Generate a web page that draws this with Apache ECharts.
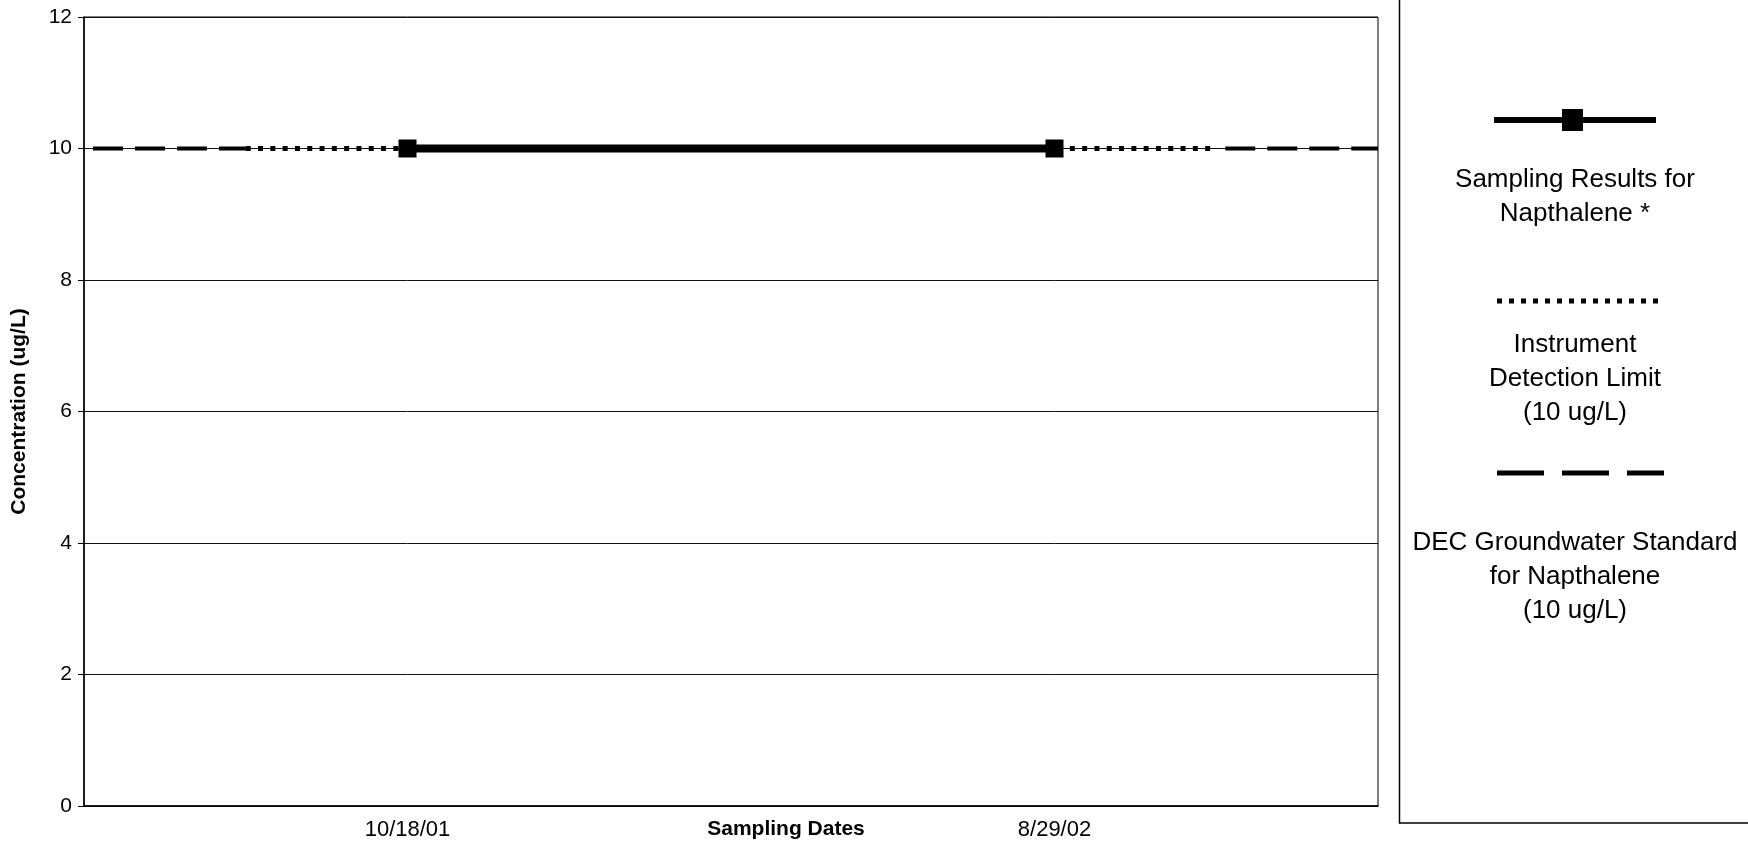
<!DOCTYPE html>
<html>
<head>
<meta charset="utf-8">
<title>Napthalene Sampling Results</title>
<script src="https://cdn.jsdelivr.net/npm/echarts@6/dist/echarts.min.js"></script>
<style>
  html, body { margin: 0; padding: 0; background: #fff; }
  #chart { width: 1748px; height: 843px; }
</style>
</head>
<body>
<div id="chart"></div>
<script>
// Sampling dates and where they sit along the horizontal scale (0..4)
const sampleDates = ['10/18/01', '8/29/02'];
const samplePositions = [1, 3];

// Napthalene concentration measured on each date (ug/L)
const napthaleneResults = [10, 10];

// Reference levels (ug/L) and the stretches of the scale they are drawn over
const detectionLimit = 10;
const detectionLimitSpans = [[0.5, 3.5]];
const groundwaterStandard = 10;
const groundwaterStandardSpans = [[0, 0.5], [3.5, 4]];

// Axis ranges
const xRange = [0, 4];
const yTicks = [0, 2, 4, 6, 8, 10, 12];

const seriesNames = {
  results: 'Sampling Results for\nNapthalene *',
  limit: 'Instrument\nDetection Limit\n(10 ug/L)',
  standard: 'DEC Groundwater Standard\nfor Napthalene\n(10 ug/L)'
};

// Turn a list of [start, end] spans into line data with breaks between spans
function spansToData(spans, level) {
  const out = [];
  spans.forEach((s, i) => {
    if (i > 0) out.push([s[0], '-']);
    out.push([s[0], level], [s[1], level]);
  });
  return out;
}

const resultsData = samplePositions.map((x, i) => [x, napthaleneResults[i]]);

const FONT = 'Liberation Sans, Arial, Helvetica, sans-serif';

const chart = echarts.init(document.getElementById('chart'), null, { renderer: 'canvas' });

// Legend panel on the right, drawn as graphic elements
const legendX = 1575;
const legendText = (text, y) => ({
  type: 'text', x: legendX, y: y, silent: true,
  style: { text: text, font: '26px ' + FONT, fill: '#000',
           align: 'center', verticalAlign: 'middle', textAlign: 'center',
           textVerticalAlign: 'middle', lineHeight: 34 }
});
const legendGraphics = [
  { type: 'rect', shape: { x: 1399.5, y: -3, width: 400, height: 826 },
    style: { fill: 'none', stroke: '#000', lineWidth: 1.5 }, silent: true },

  // solid line with square marker
  { type: 'line', shape: { x1: 1494, y1: 120, x2: 1656, y2: 120 },
    style: { stroke: '#000', lineWidth: 6 }, silent: true },
  { type: 'rect', shape: { x: 1562, y: 109, width: 21, height: 22 },
    style: { fill: '#000' }, silent: true },
  legendText(seriesNames.results, 197),

  // dotted line
  { type: 'line', shape: { x1: 1497, y1: 301, x2: 1664, y2: 301 },
    style: { stroke: '#000', lineWidth: 5, lineDash: [5, 7] }, silent: true },
  legendText(seriesNames.limit, 379),

  // dashed line
  { type: 'line', shape: { x1: 1497, y1: 473, x2: 1664, y2: 473 },
    style: { stroke: '#000', lineWidth: 5, lineDash: [47, 18] }, silent: true },
  legendText(seriesNames.standard, 577)
];

const option = {
  animation: false,
  backgroundColor: '#fff',
  grid: {
    left: 84, right: 370, top: 17, bottom: 37,
    outerBoundsMode: 'none',
    containLabel: false,
    show: true, borderColor: '#000', borderWidth: 1, backgroundColor: 'transparent'
  },
  xAxis: {
    type: 'value',
    min: xRange[0], max: xRange[1], interval: 1,
    name: 'Sampling Dates',
    nameLocation: 'middle',
    nameGap: 13,
    nameMoveOverlap: false,
    nameTextStyle: { fontFamily: FONT, fontWeight: 'bold', fontSize: 21, color: '#000',
                     padding: [0, 0, 0, 110] },
    axisLine: { show: true, onZero: false, lineStyle: { color: '#000', width: 1.5 } },
    axisTick: { show: false },
    splitLine: { show: false },
    axisLabel: {
      fontFamily: FONT, fontSize: 22, color: '#000', margin: 13,
      formatter: v => {
        const i = samplePositions.indexOf(v);
        return i >= 0 ? sampleDates[i] : '';
      }
    }
  },
  yAxis: {
    type: 'value',
    min: yTicks[0], max: yTicks[yTicks.length - 1], interval: yTicks[1] - yTicks[0],
    name: 'Concentration (ug/L)',
    nameLocation: 'middle',
    nameGap: 54,
    nameMoveOverlap: false,
    nameTextStyle: { fontFamily: FONT, fontWeight: 'bold', fontSize: 21, color: '#000' },
    axisLine: { show: true, lineStyle: { color: '#000', width: 1.5 } },
    axisTick: { show: true, length: 6, lineStyle: { color: '#000' } },
    splitLine: { show: true, lineStyle: { color: '#111', width: 1 } },
    axisLabel: { fontFamily: FONT, fontSize: 21, color: '#000', margin: 12 }
  },
  series: [
    {
      name: seriesNames.standard,
      type: 'line',
      data: spansToData(groundwaterStandardSpans, groundwaterStandard),
      symbol: 'none',
      connectNulls: false,
      lineStyle: { color: '#000', width: 4, type: [30, 12], dashOffset: 33, cap: 'butt' },
      z: 2
    },
    {
      name: seriesNames.limit,
      type: 'line',
      data: spansToData(detectionLimitSpans, detectionLimit),
      symbol: 'none',
      lineStyle: { color: '#000', width: 5, type: [5, 7.3], dashOffset: 0, cap: 'butt' },
      z: 3
    },
    {
      name: seriesNames.results,
      type: 'line',
      data: resultsData,
      symbol: 'rect',
      symbolSize: [18, 18],
      itemStyle: { color: '#000' },
      lineStyle: { color: '#000', width: 8 },
      z: 4
    }
  ],
  graphic: legendGraphics
};

chart.setOption(option);
</script>
</body>
</html>
